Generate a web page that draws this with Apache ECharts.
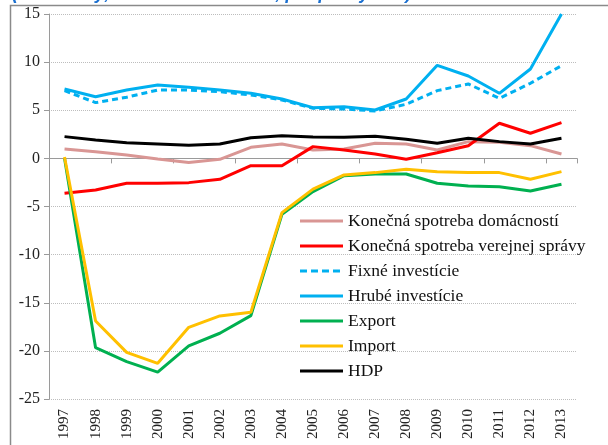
<!DOCTYPE html>
<html>
<head>
<meta charset="utf-8">
<script src="https://cdn.jsdelivr.net/npm/echarts@6/dist/echarts.min.js"></script>
<style>html,body{margin:0;padding:0;background:#fff}#c{width:608px;height:445px}</style>
</head>
<body>
<div id="c"></div>
<script>
const years = ['1997','1998','1999','2000','2001','2002','2003','2004','2005','2006','2007','2008','2009','2010','2011','2012','2013'];
const yTicks = [-25,-20,-15,-10,-5,0,5,10,15];
const domacnosti = [0.98, 0.7, 0.35, -0.06, -0.44, -0.1, 1.15, 1.5, 0.87, 0.98, 1.57, 1.5, 0.87, 1.74, 1.67, 1.32, 0.46];
const verejna = [-3.63, -3.28, -2.59, -2.59, -2.52, -2.17, -0.76, -0.76, 1.22, 0.87, 0.46, -0.1, 0.59, 1.32, 3.65, 2.61, 3.71];
const fixne = [7.04, 5.79, 6.35, 7.1, 7.1, 6.93, 6.59, 6.07, 5.2, 5.13, 4.92, 5.62, 7.04, 7.73, 6.24, 7.8, 9.63];
const hrube = [7.21, 6.41, 7.1, 7.63, 7.38, 7.1, 6.76, 6.17, 5.27, 5.37, 5.03, 6.17, 9.67, 8.56, 6.76, 9.29, 15.0];
const exportV = [0, -19.67, -21.12, -22.2, -19.49, -18.17, -16.34, -5.81, -3.45, -1.8, -1.62, -1.62, -2.59, -2.87, -2.94, -3.39, -2.69];
const importV = [0.15, -16.9, -20.15, -21.29, -17.55, -16.37, -15.99, -5.64, -3.2, -1.72, -1.48, -1.13, -1.38, -1.48, -1.48, -2.17, -1.38];
const hdp = [2.26, 1.91, 1.63, 1.5, 1.36, 1.5, 2.15, 2.36, 2.22, 2.19, 2.29, 1.98, 1.57, 2.09, 1.74, 1.5, 2.09];
const names = ['Konečná spotreba domácností','Konečná spotreba verejnej správy','Fixné investície','Hrubé investície','Export','Import','HDP'];
const titleText = '(stále ceny, medziročná zmena, príspevky v %)';

const serif = '"Liberation Serif", "Times New Roman", serif';
const solidIcon = 'path://M0,0H43V3H0Z';
const dashIcon = 'path://M0,0H7V3H0Z M11,0H18V3H11Z M22,0H29V3H22Z M33,0H40V3H33Z M43,0H43.01V3H43Z';
function mk(name, data, color, dashed) {
  return {
    name: name, type: 'line', data: data, xAxisIndex: 0, yAxisIndex: 0,
    symbol: 'none', smooth: false, animation: false,
    lineStyle: { color: color, width: 3, type: dashed ? [6, 4] : 'solid' },
    itemStyle: { color: color }
  };
}
const chart = echarts.init(document.getElementById('c'), null, { renderer: 'canvas' });
chart.setOption({
  animation: false,
  backgroundColor: '#fff',
  grid: { left: 49, right: 31, top: 14, bottom: 46, containLabel: false },
  graphic: [
    { type: 'rect', shape: { x: 10.5, y: 5.5, width: 800, height: 600 }, style: { fill: 'none', stroke: '#8a8a8a', lineWidth: 1.5 }, z: -1 },
    { type: 'text', x: 12, y: -5.5, style: { text: titleText, fill: '#1a6fd0', font: 'bold italic 18px "Liberation Sans", sans-serif', textVerticalAlign: 'middle', verticalAlign: 'middle' } }
  ],
  xAxis: [
    {
      type: 'category', data: years, boundaryGap: true, position: 'bottom',
      axisLine: { onZero: true, lineStyle: { color: '#9a9a9a', width: 1 } },
      axisTick: { show: true, alignWithLabel: false, length: 5, lineStyle: { color: '#9a9a9a' } },
      axisLabel: { show: false }, splitLine: { show: false }
    },
    {
      type: 'category', data: years, boundaryGap: true, position: 'bottom',
      axisLine: { show: false, onZero: false }, axisTick: { show: false },
      axisLabel: { show: true, rotate: 90, margin: 10, fontFamily: serif, fontSize: 15, color: '#222' },
      splitLine: { show: false }
    }
  ],
  yAxis: {
    type: 'value', min: yTicks[0], max: yTicks[yTicks.length - 1], interval: 5,
    axisLine: { show: true, lineStyle: { color: '#9a9a9a', width: 1 } },
    axisTick: { show: true, length: 5, lineStyle: { color: '#9a9a9a' } },
    axisLabel: { fontFamily: serif, fontSize: 16, color: '#222', margin: 9 },
    splitLine: { show: true, lineStyle: { color: '#bdbdbd', type: 'dotted', width: 1 } }
  },
  legend: {
    orient: 'vertical', left: 295, top: 207,
    itemWidth: 43, itemHeight: 3, itemGap: 7,
    textStyle: { fontFamily: serif, fontSize: 17.5, lineHeight: 17, color: '#111' },
    data: names.map((n, i) => ({ name: n, icon: i === 2 ? dashIcon : solidIcon }))
  },
  series: [
    mk(names[0], domacnosti, '#D99694'),
    mk(names[1], verejna, '#FF0000'),
    mk(names[2], fixne, '#00B0F0', true),
    mk(names[3], hrube, '#00B0F0'),
    mk(names[4], exportV, '#00B050'),
    mk(names[5], importV, '#FFC000'),
    mk(names[6], hdp, '#000000')
  ]
});
</script>
</body>
</html>
